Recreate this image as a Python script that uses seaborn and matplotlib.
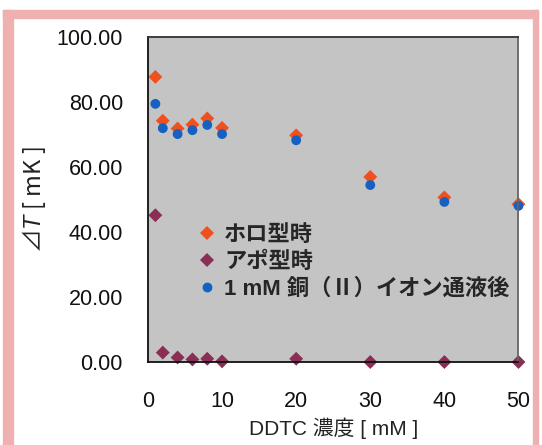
import pandas as pd
import seaborn as sns
import matplotlib.pyplot as plt
from matplotlib.patches import Rectangle

# data
ddtc = [1, 2, 4, 6, 8, 10, 20, 30, 40, 50]
holo = [87.8, 74.3, 71.9, 73.1, 75.0, 72.1, 69.8, 57.0, 50.7, 48.6]
apo = [45.2, 2.9, 1.4, 0.8, 1.0, 0.2, 1.0, 0.0, 0.0, 0.0]
copper = [79.5, 72.0, 70.2, 71.4, 73.0, 70.2, 68.3, 54.5, 49.3, 48.1]

names = ['ホロ型時', 'アポ型時', '1 mM 銅（Ⅱ）イオン通液後']
colors = ['#F0501E', '#8A2E55', '#1560C0']
xticks = [0, 10, 20, 30, 40, 50]
yticks = [0, 20, 40, 60, 80, 100]

df = pd.concat([
    pd.DataFrame({'ddtc': ddtc, 'dT': holo, 'series': names[0]}),
    pd.DataFrame({'ddtc': ddtc, 'dT': apo, 'series': names[1]}),
    pd.DataFrame({'ddtc': ddtc, 'dT': copper, 'series': names[2]}),
])

sns.set_style('white')
plt.rcParams['font.family'] = ['Liberation Sans', 'Noto Sans CJK JP', 'DejaVu Sans']
plt.rcParams['mathtext.fontset'] = 'custom'
plt.rcParams['mathtext.it'] = 'Liberation Sans:italic'

fig = plt.figure(figsize=(5.42, 4.45), dpi=100)
ax = fig.add_axes([0.273, 0.1865, 0.6836, 0.7297])

sns.scatterplot(data=df, x='ddtc', y='dT', hue='series', style='series',
                palette=dict(zip(names, colors)),
                markers={names[0]: 'D', names[1]: 'D', names[2]: 'o'},
                s=50, linewidth=0, ax=ax, legend=True)
for coll in ax.collections:
    coll.set_clip_on(False)

ax.set_facecolor('#C4C4C4')
ax.set_xlim(0, 50)
ax.set_ylim(0, 100)
ax.set_xticks(xticks)
ax.set_yticks(yticks)
ax.set_yticklabels([f'{v:.2f}' for v in yticks])
ax.tick_params(axis='x', length=0, pad=21, labelsize=15.5, labelcolor='#111')
ax.tick_params(axis='y', direction='in', length=3, pad=18, labelsize=15.5, labelcolor='#111')
for side, c in [('left', '#111'), ('bottom', '#111'), ('top', '#333'), ('right', '#666')]:
    ax.spines[side].set_color(c)
    ax.spines[side].set_linewidth(1.3)
    ax.spines[side].set_visible(True)

ax.set_xlabel('DDTC 濃度 [ mM ]', fontsize=15, color='#222', labelpad=4)
# Noto carries the ⊿ sign; mathtext does not fall back, so name it alone here
ax.set_ylabel('⊿$T$ [ mK ]', fontsize=17, color='#222', labelpad=6,
              family='Noto Sans CJK JP')

ax.legend(loc='upper left', bbox_to_anchor=(0.11, 0.45), frameon=False,
          prop={'weight': 'bold', 'size': 16}, handlelength=0.8, handletextpad=0.4,
          labelspacing=0.25, borderaxespad=0, markerscale=1.0)

# pink frame of the scanned figure
for x0, y0, w, h in [(3, 0, 10, 435), (3, 427, 535, 8), (533, 0, 5, 435)]:
    fig.patches.append(Rectangle((x0 / 542, y0 / 445), w / 542, h / 445,
                                 transform=fig.transFigure, color='#EFB0B0', zorder=0))

fig.savefig('out.png', dpi=100)
